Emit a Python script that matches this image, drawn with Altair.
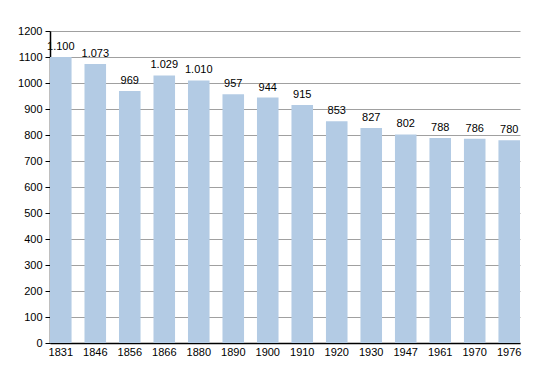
import altair as alt
import pandas as pd

years = ["1831", "1846", "1856", "1866", "1880", "1890", "1900", "1910",
         "1920", "1930", "1947", "1961", "1970", "1976"]
population = [1100, 1073, 969, 1029, 1010, 957, 944, 915, 853, 827, 802, 788, 786, 780]
y_ticks = list(range(0, 1201, 50))

df = pd.DataFrame({"year": years, "pop": population})

FONT = "Liberation Sans"
BAR = "#b3cbe4"

x = alt.X("year:O", sort=years, title=None,
          scale=alt.Scale(paddingInner=0.375, paddingOuter=0, align=0),
          axis=alt.Axis(labelAngle=0, ticks=False, domainColor="#000", domainWidth=1.5,
                        labelFont=FONT, labelFontSize=11, labelColor="#000", labelPadding=3))
y = alt.Y("pop:Q", title=None,
          scale=alt.Scale(domain=[0, 1200], nice=False),
          axis=alt.Axis(values=y_ticks, domainColor="#000", domainWidth=1.5,
                        labelOverlap=False, labelFlush=False, tickCount=24,
                        labelExpr="datum.value % 100 === 0 ? datum.value : ''",
                        labelFont=FONT, labelFontSize=11, labelColor="#000", labelPadding=3,
                        tickColor="#000",
                        tickSize={"condition": {"test": "datum.value % 100 === 0", "value": 5}, "value": 3},
                        gridColor={"condition": {"test": "datum.value % 100 === 0", "value": "#a0a0a0"}, "value": "#dedede"},
                        gridWidth=1))

bars = alt.Chart(df).mark_bar(color=BAR).encode(x=x, y=y)
labels = alt.Chart(df).transform_calculate(
    lab="replace(format(datum.pop, ','), ',', '.')"
).mark_text(dy=-10, font=FONT, fontSize=11, color="#000").encode(
    x=alt.X("year:O", sort=years), y="pop:Q", text="lab:N")

chart = (bars + labels).properties(
    width=470, height=312,
    autosize=alt.AutoSizeParams(type="none"),
    padding={"left": 42, "top": 23, "right": 14, "bottom": 14},
).configure_view(stroke=None)

chart.save("out.html", embed_options={"renderer": "svg", "actions": False})
